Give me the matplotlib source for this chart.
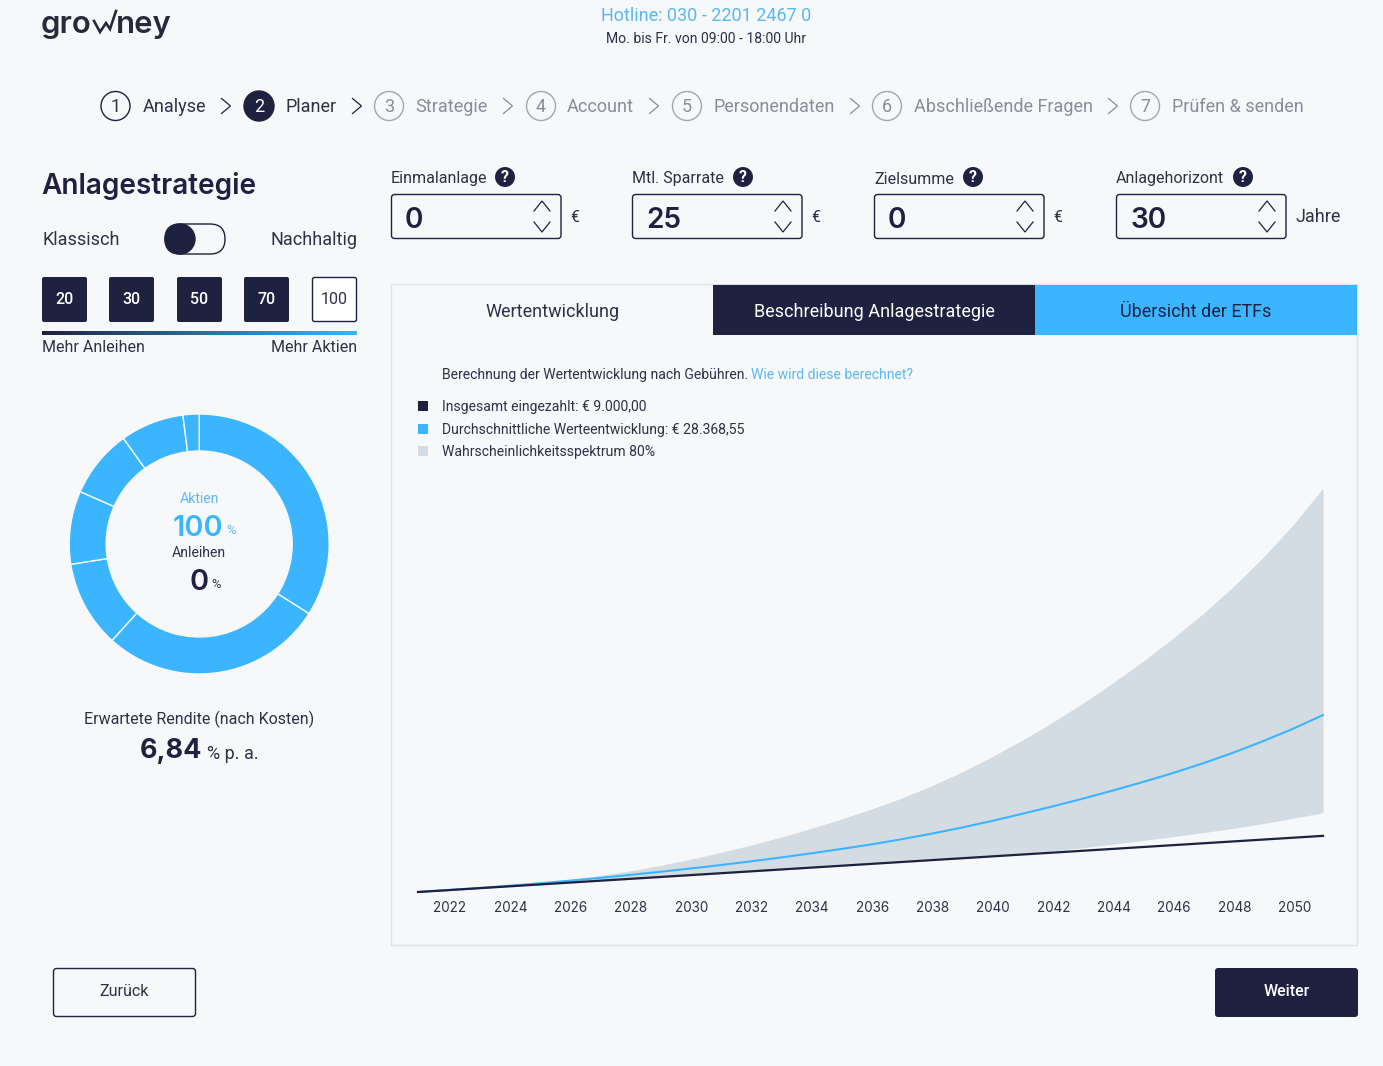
import matplotlib
matplotlib.use("Agg")
import matplotlib.pyplot as plt
import numpy as np
from matplotlib.patches import FancyBboxPatch, Rectangle, Circle, Ellipse
from matplotlib.transforms import ScaledTranslation

# data
years = list(range(2021, 2052))
paid_in = [0, 300, 600, 900, 1200, 1500, 1800, 2100, 2400, 2700, 3000, 3300, 3600, 3900, 4200, 4500,
           4800, 5100, 5400, 5700, 6000, 6300, 6600, 6900, 7200, 7500, 7800, 8100, 8400, 8700, 9000]
average = [0, 305, 635, 990, 1375, 1800, 2250, 2725, 3225, 3750, 4300, 4890, 5515, 6175, 6875, 7610,
           8430, 9330, 10300, 11360, 12500, 13680, 14920, 16220, 17590, 19030, 20590, 22290, 24150, 26150, 28368]
upper = [0, 310, 650, 1030, 1470, 2000, 2620, 3370, 4230, 5210, 6300, 7470, 8750, 10140, 11640, 13250,
         14990, 16970, 19170, 21610, 24250, 27080, 30140, 33400, 36870, 40560, 44520, 48830, 53560, 58790, 64760]
lower = [0, 290, 570, 860, 1150, 1430, 1720, 2000, 2300, 2600, 2900, 3220, 3520, 3830, 4140, 4450,
         4760, 5070, 5390, 5710, 6100, 6560, 7090, 7650, 8240, 8860, 9500, 10180, 10960, 11800, 12710]
year_ticks = list(range(2022, 2051, 2))
etf_shares = [34, 27.7, 10.8, 9.1, 8.5, 7.9, 2.0]
step_names = ["Analyse", "Planer", "Strategie", "Account", "Personendaten", "Abschließende Fragen", "Prüfen & senden"]
stock_levels = ["20", "30", "50", "70", "100"]
input_labels = ["Einmalanlage", "Mtl. Sparrate", "Zielsumme", "Anlagehorizont"]
input_values = ["0", "25", "0", "30"]
legend_labels = ["Insgesamt eingezahlt: € 9.000,00", "Durchschnittliche Werteentwicklung: € 28.368,55",
                 "Wahrscheinlichkeitsspektrum 80%"]

W, H = 1383, 1066
BG = "#F6F8FA"
NAVY = "#1E2240"
BLUE = "#3BB5FF"
BAND = "#D3DCE3"
GREY = "#8A8D99"
TEXT = "#2E3148"
LINK = "#5BB8F0"
ROBOTO = "Roboto"
INTER = "Inter"

plt.rcParams["font.family"] = [ROBOTO, "DejaVu Sans"]
fig = plt.figure(figsize=(W / 100, H / 100), dpi=100, facecolor=BG)

# page axes, in pixels of the screenshot
ui = fig.add_axes([0, 0, 1, 1])
ui.set_xlim(0, W)
ui.set_ylim(H, 0)
ui.axis("off")


def txt(x, y, s, px, color=TEXT, ha="left", weight="normal", family=ROBOTO, **kw):
    # matplotlib sits higher than the browser text, a bit more for Inter
    y = y + (2 if family == INTER else 1)
    return ui.text(x, y, s, fontsize=px * 0.72, color=color, ha=ha, va="center",
                   fontweight=weight, family=family, **kw)


def box(x0, y0, x1, y1, fc, ec="none", lw=1.0, r=2.0):
    p = FancyBboxPatch((x0 + r, y0 + r), x1 - x0 - 2 * r, y1 - y0 - 2 * r,
                       boxstyle="round,pad=%f,rounding_size=%f" % (r, r), fc=fc, ec=ec, lw=lw)
    ui.add_patch(p)


def chevron(x, y, dx, dy, color, lw=0.9):
    # dy == 0 points right, otherwise up or down
    if dy == 0:
        ui.plot([x - dx, x + dx, x - dx], [y - 7.5, y, y + 7.5], color=color, lw=lw, solid_joinstyle="miter")
    else:
        ui.plot([x - dx, x, x + dx], [y - dy, y + dy, y - dy], color=color, lw=lw, solid_joinstyle="miter")


# header
txt(41, 23, "gro", 31, color="#262A3C", family=INTER, weight="semibold")
ui.plot([94, 100, 106, 110, 116], [21, 32, 23, 29, 11], color="#262A3C", lw=1.9, solid_joinstyle="miter")
txt(116, 23, "ney", 31, color="#262A3C", family=INTER, weight="semibold")
txt(706, 15, "Hotline: 030 - 2201 2467 0", 18, color=LINK, ha="center")
txt(705.5, 38, "Mo. bis Fr. von 09:00 - 18:00 Uhr", 14, ha="center")

# steps
circle_x = [115.5, 259, 389, 541, 687, 887, 1145]
label_x = [143, 285.5, 415.5, 567, 713.5, 914, 1171.5]
chev_x = [226, 357, 508, 654, 855, 1113]
for i, name in enumerate(step_names):
    active = i < 2
    col = TEXT if active else GREY
    if i == 1:
        ui.add_patch(Circle((circle_x[i], 106), 15, fc=NAVY, ec=NAVY, lw=1))
        txt(circle_x[i], 106, str(i + 1), 18, color="white", ha="center")
    else:
        ui.add_patch(Circle((circle_x[i], 106), 14.5, fc="none", ec=NAVY if active else "#A3A6AF", lw=1))
        txt(circle_x[i], 106, str(i + 1), 18, color=col, ha="center")
    txt(label_x[i], 106, name, 18, color=col)
    if i < len(chev_x):
        chevron(chev_x[i], 106, 4.5, 0, NAVY if i < 2 else GREY)

# left column
txt(41.5, 184, "Anlagestrategie", 28, color=NAVY, weight="semibold", family=INTER)
txt(42, 239, "Klassisch", 18)
txt(357, 239, "Nachhaltig", 18, ha="right")
box(165, 224, 225, 254, "none", ec=NAVY, lw=1, r=15)
ui.add_patch(Ellipse((180, 239), 30, 30, fc=NAVY, ec=NAVY))

level_x = [42, 109, 177, 244, 312]
for x, lab in zip(level_x, stock_levels):
    if lab == "100":
        box(x + 0.5, 277.5, x + 44.5, 321.5, "white", ec=NAVY, lw=1)
        txt(x + 22.5, 298, lab, 16, ha="center")
    else:
        box(x, 277, x + 45, 322, NAVY)
        txt(x + 22.5, 298, lab, 16, color="white", ha="center", weight="medium")

grad = np.linspace(0, 1, 256).reshape(1, -1)
cmap = matplotlib.colors.LinearSegmentedColormap.from_list("bar", [NAVY, "#3BB5F5"])
ui.imshow(grad, extent=(42, 357, 335, 331), cmap=cmap, aspect="auto", zorder=2)
ui.set_xlim(0, W)
ui.set_ylim(H, 0)
txt(42, 347, "Mehr Anleihen", 16)
txt(357, 347, "Mehr Aktien", 16, ha="right")

txt(199, 498, "Aktien", 14, color=LINK, ha="center")
txt(198, 526, "100", 29, color=BLUE, ha="center", weight="semibold", family=INTER)
txt(226, 529, "%", 13, color=LINK)
txt(199, 552, "Anleihen", 14, ha="center")
txt(199, 580, "0", 29, color=NAVY, ha="center", weight="semibold", family=INTER)
txt(211, 583, "%", 13)
txt(199, 718, "Erwartete Rendite (nach Kosten)", 16, ha="center")
txt(202, 749, "6,84", 27, color=NAVY, ha="right", weight="bold", family=INTER)
txt(207, 753, "% p. a.", 18)

# inputs
input_x = [391, 632, 874, 1116]
help_x = [505, 743, 973, 1243]
for x, hx, lab, val in zip(input_x, help_x, input_labels, input_values):
    txt(x, 178, lab, 16)
    ui.add_patch(Circle((hx, 177), 10, fc=NAVY, ec="none"))
    txt(hx, 176, "?", 16, color="white", ha="center", weight="bold")
    box(x + 0.5, 194.5, x + 170, 238.5, "none", ec=NAVY, lw=1, r=3)
    txt(x + 14, 218, val, 28, color=NAVY, weight="semibold", family=INTER)
    chevron(x + 151, 206, 8, -5, NAVY)
    chevron(x + 151, 227, 8, 5, NAVY)
for x in input_x[:3]:
    txt(x + 179, 216, "€", 16)
txt(1296, 216, "Jahre", 18)

# panel and tabs
ui.add_patch(Rectangle((391, 284), 966, 661, fc="none", ec="#DDE3E8", lw=1))
ui.add_patch(Rectangle((713, 285), 322, 50, fc=NAVY, ec="none"))
ui.add_patch(Rectangle((1035, 285), 322, 50, fc=BLUE, ec="none"))
txt(552.5, 311, "Wertentwicklung", 18, ha="center")
txt(874, 311, "Beschreibung Anlagestrategie", 18, color="white", ha="center")
txt(1196, 311, "Übersicht der ETFs", 18, color=NAVY, ha="center")

txt(441.5, 374, "Berechnung der Wertentwicklung nach Gebühren.", 14)
txt(751, 374, "Wie wird diese berechnet?", 14, color=LINK)
legend_y = [406, 429, 451]
legend_cols = [NAVY, BLUE, BAND]
for y, col, lab in zip(legend_y, legend_cols, legend_labels):
    ui.add_patch(Rectangle((418, y - 5), 10, 10, fc=col, ec="none"))
    txt(441.5, y, lab, 14)

# buttons at the bottom
box(53.5, 968.5, 195.5, 1016.5, "none", ec=NAVY, lw=1, r=3)
txt(124.5, 991, "Zurück", 16, ha="center")
box(1215, 968, 1358, 1017, NAVY, r=3)
txt(1286.5, 991, "Weiter", 16, color="white", ha="center", weight="medium")

# donut
cx, cy, rad, pad = 199.2, 544, 130, 6
dn = fig.add_axes([(cx - rad - pad) / W, 1 - (cy + rad + pad) / H, 2 * (rad + pad) / W, 2 * (rad + pad) / H])
dn.pie(etf_shares, colors=[BLUE] * len(etf_shares), startangle=90, counterclock=False, radius=1,
       wedgeprops=dict(width=37 / rad, edgecolor=BG, linewidth=1.0))
lim = (rad + pad) / rad
dn.set_xlim(-lim, lim)
dn.set_ylim(-lim, lim)
dn.patch.set_alpha(0)

# value chart
left, right, base, top = 418, 1323, 892, 488
ax = fig.add_axes([left / W, 1 - base / H, (right - left) / W, (base - top) / H])
ax.patch.set_alpha(0)
ax.fill_between(years, lower, upper, color=BAND, lw=0)
ax.plot(years, average, color=BLUE, lw=1.5, clip_on=False)
ax.plot(years, paid_in, color=NAVY, lw=1.6, clip_on=False)
ax.set_xlim(2021, 2051)
ax.set_ylim(0, 64760)
ax.set_yticks([])
ax.set_xticks(year_ticks)
ax.tick_params(axis="x", length=0, pad=6.2, labelsize=13.5 * 0.72, labelcolor=TEXT)
shift = ScaledTranslation(1.8 / 100, 0, fig.dpi_scale_trans)
for lbl in ax.get_xticklabels():
    lbl.set_transform(lbl.get_transform() + shift)
    lbl.set_family(INTER)
for s in ax.spines.values():
    s.set_visible(False)

fig.savefig("out.png", dpi=100, facecolor=BG)
